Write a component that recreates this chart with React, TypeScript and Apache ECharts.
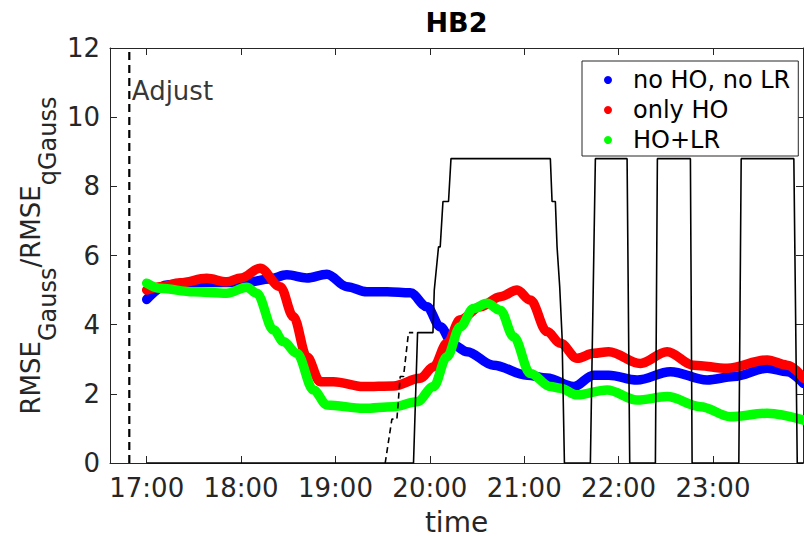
import React, { useEffect, useRef } from 'react';
import * as echarts from 'echarts';

const chartTitle = 'HB2';
const seriesNames = ['no HO, no LR', 'only HO', 'HO+LR'];
const seriesColors = ['#0000ff', '#ff0000', '#00ff00'];

// time in decimal hours
const blueT = [17.0, 17.212, 17.459, 17.8, 18.095, 18.3, 18.485, 18.697, 18.909, 19.121, 19.333, 19.55, 19.792, 19.969, 20.11, 20.251, 20.393, 20.672, 21.03, 21.242, 21.524, 21.736, 21.895, 22.196, 22.549, 22.938, 23.221, 23.575, 23.787, 23.96];
const blueV = [4.73, 5.15, 5.22, 5.22, 5.24, 5.32, 5.44, 5.35, 5.46, 5.1, 4.95, 4.95, 4.92, 4.52, 3.94, 3.41, 3.22, 2.83, 2.54, 2.46, 2.21, 2.54, 2.54, 2.4, 2.64, 2.4, 2.5, 2.74, 2.64, 2.3];

const redT = [17.0, 17.15, 17.353, 17.636, 17.848, 18.0, 18.201, 18.414, 18.555, 18.697, 18.838, 18.979, 19.297, 19.615, 19.898, 20.039, 20.181, 20.322, 20.534, 20.746, 20.924, 21.065, 21.242, 21.383, 21.56, 21.736, 21.895, 22.231, 22.514, 22.796, 23.15, 23.575, 23.787, 23.96];
const redV = [5.0, 5.1, 5.21, 5.34, 5.24, 5.35, 5.63, 5.1, 4.23, 3.07, 2.35, 2.35, 2.21, 2.23, 2.45, 2.78, 3.46, 4.14, 4.52, 4.81, 5.0, 4.71, 3.8, 3.46, 3.03, 3.17, 3.22, 2.88, 3.22, 2.83, 2.74, 2.98, 2.83, 2.45];

const greenT = [17.0, 17.141, 17.494, 17.848, 18.06, 18.166, 18.343, 18.449, 18.591, 18.767, 18.909, 19.297, 19.615, 19.863, 20.039, 20.181, 20.322, 20.463, 20.606, 20.746, 20.888, 21.065, 21.277, 21.383, 21.56, 21.878, 22.196, 22.514, 22.867, 23.186, 23.575, 23.96];
const greenV = [5.2, 5.05, 4.95, 4.91, 5.08, 4.91, 3.85, 3.51, 3.17, 2.11, 1.68, 1.58, 1.63, 1.77, 2.21, 3.07, 3.94, 4.47, 4.62, 4.42, 3.65, 2.59, 2.21, 2.16, 1.97, 2.11, 1.82, 1.92, 1.63, 1.34, 1.44, 1.24];

const stepT = [17.0, 19.827, 19.87, 20.033, 20.047, 20.092, 20.11, 20.139, 20.198, 20.224, 21.277, 21.295, 21.33, 21.348, 21.376, 21.401, 21.426, 21.701, 21.754, 22.09, 22.118, 22.39, 22.411, 22.761, 22.779, 23.274, 23.299, 23.857, 23.893, 23.96];
const stepV = [0, 0, 3.77, 3.77, 5.0, 6.25, 6.25, 7.56, 7.56, 8.8, 8.8, 7.56, 7.56, 6.25, 5.1, 3.65, 0, 0, 8.8, 8.8, 0, 0, 8.8, 8.8, 0, 0, 8.8, 8.8, 0, 0];

const dashStepT = [19.527, 19.598, 19.651, 19.686, 19.721, 19.774, 19.824];
const dashStepV = [0, 1.27, 1.27, 2.5, 2.5, 3.77, 3.77];

const adjustHour = 16.8155;
const adjustLabelY = 10.77;
const adjustText = 'Adjust';

const xMin = 16.611;
const xMax = 23.954;
const xTickHours = [17, 18, 19, 20, 21, 22, 23];
const xTickLabels = ['17:00', '18:00', '19:00', '20:00', '21:00', '22:00', '23:00'];
const yMin = 0;
const yMax = 12;
const yStep = 2;

const FONT = '"DejaVu Sans", sans-serif';
const AX = '#262626';

const zip = (t: number[], v: number[]) => t.map((x, i) => [x, v[i]]);

export default function App() {
  const ref = useRef<HTMLDivElement>(null);
  useEffect(() => {
    document.body.style.margin = '0';
    if (!ref.current) return;
    const chart = echarts.init(ref.current, null, { renderer: 'svg' });
    const colorSeries = [
      [blueT, blueV],
      [redT, redV],
      [greenT, greenV],
    ].map(([t, v], i) => ({
      name: seriesNames[i],
      type: 'line',
      data: zip(t, v),
      smooth: 0.35,
      smoothMonotone: 'x',
      symbol: 'circle',
      showSymbol: false,
      color: seriesColors[i],
      lineStyle: { width: 9.5, color: seriesColors[i], cap: 'round', join: 'round' },
      z: 2 + i,
    }));
    const option: any = {
      animation: false,
      backgroundColor: '#fff',
      title: {
        text: chartTitle,
        left: 456.5,
        textAlign: 'center',
        top: 9,
        padding: 0,
        textStyle: { fontFamily: FONT, fontSize: 27, fontWeight: 'bold', color: '#000' },
      },
      legend: {
        data: seriesNames.map((n) => ({ name: n, icon: 'circle' })),
        orient: 'vertical',
        left: 582,
        top: 61,
        itemWidth: 40,
        itemHeight: 8,
        itemGap: 6,
        padding: [7, 8, 4, 22],
        borderColor: AX,
        borderWidth: 1,
        backgroundColor: '#fff',
        textStyle: { fontFamily: FONT, fontSize: 24, color: '#000' },
      },
      grid: { left: 110, right: 1, top: 48, bottom: 73, show: false, outerBoundsMode: 'none', containLabel: false },
      xAxis: [
        {
          type: 'value',
          position: 'bottom',
          min: xMin,
          max: xMax,
          name: 'time',
          nameLocation: 'middle',
          nameGap: 45,
          nameMoveOverlap: false,
          nameTextStyle: { fontFamily: FONT, fontSize: 28, color: AX },
          axisLine: { show: true, onZero: false, lineStyle: { color: AX, width: 1 } },
          axisTick: { show: true, inside: true, length: 7, customValues: xTickHours, lineStyle: { color: AX } },
          axisLabel: {
            show: true,
            customValues: xTickHours,
            formatter: (v: number) => xTickLabels[xTickHours.indexOf(Math.round(v))] ?? '',
            fontFamily: FONT,
            fontSize: 26,
            color: AX,
            margin: 12,
          },
          splitLine: { show: false },
        },
        {
          type: 'value',
          position: 'top',
          min: xMin,
          max: xMax,
          axisLine: { show: true, onZero: false, lineStyle: { color: AX, width: 1 } },
          axisTick: { show: true, inside: true, length: 7, customValues: xTickHours, lineStyle: { color: AX } },
          axisLabel: { show: false },
          splitLine: { show: false },
        },
      ],
      yAxis: [
        {
          type: 'value',
          position: 'left',
          min: yMin,
          max: yMax,
          interval: yStep,
          name: '{m|RMSE}{s|Gauss}{m|/RMSE}{s|qGauss}',
          nameLocation: 'middle',
          nameRotate: 90,
          nameGap: 50,
          nameMoveOverlap: false,
          nameTextStyle: {
            rich: {
              m: { fontFamily: FONT, fontSize: 26, color: AX },
              s: { fontFamily: FONT, fontSize: 24, color: AX, padding: [34, 0, 0, 0] },
            },
          },
          axisLine: { show: true, onZero: false, lineStyle: { color: AX, width: 1 } },
          axisTick: { show: true, inside: true, length: 7, lineStyle: { color: AX } },
          axisLabel: { fontFamily: FONT, fontSize: 26, color: AX, margin: 10 },
          splitLine: { show: false },
        },
        {
          type: 'value',
          position: 'right',
          min: yMin,
          max: yMax,
          interval: yStep,
          axisLine: { show: true, onZero: false, lineStyle: { color: AX, width: 1 } },
          axisTick: { show: true, inside: true, length: 7, lineStyle: { color: AX } },
          axisLabel: { show: false },
          splitLine: { show: false },
        },
      ],
      series: [
        ...colorSeries,
        {
          name: 'occupancy',
          type: 'line',
          data: zip(stepT, stepV),
          symbol: 'none',
          lineStyle: { width: 1.6, color: '#000' },
          z: 10,
        },
        {
          name: 'occupancy-adjust',
          type: 'line',
          data: zip(dashStepT, dashStepV),
          symbol: 'none',
          lineStyle: { width: 1.6, color: '#000', type: [6, 4] },
          z: 10,
        },
        {
          name: 'adjust',
          type: 'line',
          data: [
            [adjustHour, yMin],
            [adjustHour, yMax],
          ],
          symbol: 'none',
          lineStyle: { width: 2.2, color: '#000', type: [8, 5] },
          z: 11,
        },
        {
          name: 'adjust-label',
          type: 'scatter',
          data: [[adjustHour, adjustLabelY]],
          symbolSize: 1,
          itemStyle: { color: 'rgba(0,0,0,0)' },
          label: {
            show: true,
            position: 'right',
            distance: 2,
            formatter: adjustText,
            fontFamily: FONT,
            fontSize: 26,
            color: '#000',
          },
          z: 11,
        },
      ],
    };
    chart.setOption(option);
    return () => chart.dispose();
  }, []);
  return <div ref={ref} style={{ width: 804, height: 536 }} />;
}
